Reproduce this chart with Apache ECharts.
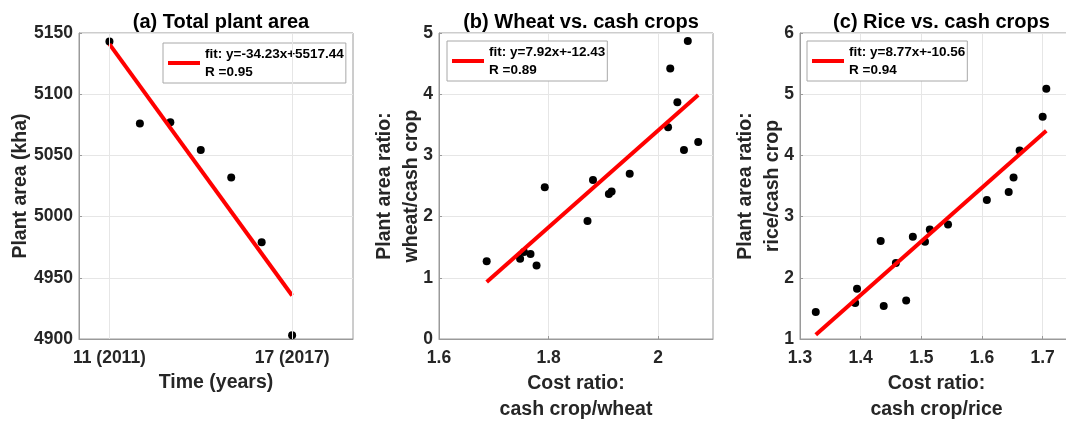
<!DOCTYPE html>
<html>
<head>
<meta charset="utf-8">
<script src="https://cdn.jsdelivr.net/npm/echarts@6/dist/echarts.min.js"></script>
<style>
html,body{margin:0;padding:0;background:#fff;}
#chart{width:1066px;height:421px;}
</style>
</head>
<body>
<div id="chart"></div>
<script>
// ---- data ----
const yearsA = [11, 12, 13, 14, 15, 16, 17];
const areaA = [5143, 5076, 5077, 5054.5, 5032, 4979, 4903];
const fitA = [[11, 5140.91], [17, 4935.53]];
const fitNameA = 'fit: y=-34.23x+5517.44\nR =0.95';
const xTicksA = [11, 17];
const xTickLabelsA = ['11 (2011)', '17 (2017)'];

const costB = [1.687, 1.748, 1.755, 1.767, 1.778, 1.793, 1.871, 1.881, 1.910, 1.915, 1.948, 2.018, 2.022, 2.035, 2.047, 2.054, 2.073];
const ratioB = [1.27, 1.31, 1.42, 1.39, 1.20, 2.48, 1.93, 2.60, 2.37, 2.41, 2.70, 3.46, 4.42, 3.87, 3.09, 4.87, 3.22];
const fitB = [[1.687, 0.931], [2.073, 3.988]];
const fitNameB = 'fit: y=7.92x+-12.43\nR =0.89';
const xTicksB = [1.6, 1.8, 2.0];

const costC = [1.326, 1.391, 1.394, 1.433, 1.438, 1.458, 1.475, 1.486, 1.506, 1.514, 1.544, 1.608, 1.644, 1.652, 1.662, 1.700, 1.706];
const ratioC = [1.44, 1.59, 1.82, 2.60, 1.54, 2.24, 1.63, 2.67, 2.59, 2.79, 2.87, 3.27, 3.40, 3.64, 4.08, 4.63, 5.09];
const fitC = [[1.326, 1.069], [1.706, 4.402]];
const fitNameC = 'fit: y=8.77x+-10.56\nR =0.94';
const xTicksC = [1.3, 1.4, 1.5, 1.6, 1.7];

const titles = ['(a) Total plant area', '(b) Wheat vs. cash crops', '(c) Rice vs. cash crops'];

// ---- style ----
const FONT = "'Liberation Sans', Arial, sans-serif";
const TXT = '#262626';
const BORDER = '#9a9a9a';
const GRIDC = '#e6e6e6';

const grids = [
  {left: 79, top: 33, width: 274, height: 306},
  {left: 439, top: 33, width: 274, height: 306},
  {left: 800, top: 33, width: 273, height: 306}
];
const centers = [216, 576, 936.5];

function labelStyle(extra) {
  return Object.assign({color: TXT, fontFamily: FONT, fontWeight: 'bold', fontSize: 17.5}, extra || {});
}
function nameStyle(extra) {
  return Object.assign({color: TXT, fontFamily: FONT, fontWeight: 'bold', fontSize: 19.5}, extra || {});
}
function fmt(v) {
  const r = Math.round(v * 100) / 100;
  return String(r);
}

const xAxes = [
  {
    gridIndex: 0, type: 'value', min: 10, max: 19, interval: 1,
    name: 'Time (years)', nameLocation: 'middle', nameGap: 34, nameTextStyle: nameStyle(),
    axisLine: {show: true, lineStyle: {color: BORDER, width: 1}},
    axisTick: {show: true, inside: true, length: 3, customValues: xTicksA, lineStyle: {color: BORDER}},
    axisLabel: {customValues: xTicksA, margin: 10, formatter: v => xTickLabelsA[xTicksA.indexOf(Math.round(v))] || '', ...labelStyle()},
    splitLine: {show: false}
  },
  {
    gridIndex: 1, type: 'value', min: 1.6, max: 2.1, interval: 0.2,
    name: 'Cost ratio:\ncash crop/wheat', nameLocation: 'middle', nameGap: 32, nameTextStyle: nameStyle({lineHeight: 26}),
    axisLine: {show: true, lineStyle: {color: BORDER, width: 1}},
    axisTick: {show: true, inside: true, length: 3, customValues: xTicksB, lineStyle: {color: BORDER}},
    axisLabel: {customValues: xTicksB, margin: 10, formatter: fmt, ...labelStyle()},
    splitLine: {show: true, lineStyle: {color: GRIDC, width: 1}}
  },
  {
    gridIndex: 2, type: 'value', min: 1.3, max: 1.75, interval: 0.1,
    name: 'Cost ratio:\ncash crop/rice', nameLocation: 'middle', nameGap: 32, nameTextStyle: nameStyle({lineHeight: 26}),
    axisLine: {show: true, lineStyle: {color: BORDER, width: 1}},
    axisTick: {show: true, inside: true, length: 3, customValues: xTicksC, lineStyle: {color: BORDER}},
    axisLabel: {customValues: xTicksC, margin: 10, formatter: fmt, ...labelStyle()},
    splitLine: {show: true, lineStyle: {color: GRIDC, width: 1}}
  }
].map(a => Object.assign(a, {nameMoveOverlap: false}));

const yAxes = [
  {
    gridIndex: 0, type: 'value', min: 4900, max: 5150, interval: 50,
    name: 'Plant area (kha)', nameLocation: 'middle', nameGap: 48, nameTextStyle: nameStyle()
  },
  {
    gridIndex: 1, type: 'value', min: 0, max: 5, interval: 1,
    name: 'Plant area ratio:\nwheat/cash crop', nameLocation: 'middle', nameGap: 14, nameTextStyle: nameStyle({lineHeight: 27})
  },
  {
    gridIndex: 2, type: 'value', min: 1, max: 6, interval: 1,
    name: 'Plant area ratio:\nrice/cash crop', nameLocation: 'middle', nameGap: 14, nameTextStyle: nameStyle({lineHeight: 27})
  }
].map(a => Object.assign(a, {
  nameMoveOverlap: false,
  axisLine: {show: true, lineStyle: {color: BORDER, width: 1}},
  axisTick: {show: true, inside: true, length: 3, lineStyle: {color: BORDER}},
  axisLabel: Object.assign({margin: 6, formatter: v => String(Math.round(v * 100) / 100)}, labelStyle()),
  splitLine: {show: true, lineStyle: {color: GRIDC, width: 1}}
}));

function scatter(idx, xs, ys, extra) {
  return Object.assign({
    type: 'scatter', xAxisIndex: idx, yAxisIndex: idx,
    data: xs.map((x, i) => [x, ys[i]]),
    symbolSize: 8, itemStyle: {color: '#000', opacity: 1}, silent: true
  }, extra || {});
}
function fitLine(idx, name, pts) {
  return {
    type: 'line', name: name, xAxisIndex: idx, yAxisIndex: idx,
    data: pts, symbol: 'none', silent: true,
    lineStyle: {color: '#ff0000', width: 4}, itemStyle: {color: '#ff0000'}
  };
}

const legendBase = {
  orient: 'vertical', icon: 'rect', itemWidth: 32, itemHeight: 4,
  padding: [2, 2, 2, 5], borderColor: '#a8a8a8', borderWidth: 1, backgroundColor: '#fff',
  selectedMode: false,
  textStyle: {color: '#000', fontFamily: FONT, fontWeight: 'bold', fontSize: 13.5, lineHeight: 18}
};

const option = {
  animation: false,
  backgroundColor: '#fff',
  title: titles.map((t, i) => ({
    text: t, left: centers[i], top: 7, textAlign: 'center',
    textStyle: {color: '#000', fontFamily: FONT, fontWeight: 'bold', fontSize: 20}
  })),
  grid: grids.map(g => Object.assign({show: true, borderColor: BORDER, borderWidth: 1, backgroundColor: '#fff', containLabel: false, outerBoundsMode: 'none'}, g)),
  legend: [
    Object.assign({data: [fitNameA], left: 163, top: 43}, legendBase),
    Object.assign({data: [fitNameB], left: 447, top: 41}, legendBase),
    Object.assign({data: [fitNameC], left: 807, top: 41}, legendBase)
  ],
  xAxis: xAxes,
  yAxis: yAxes,
  series: [
    scatter(0, yearsA, areaA, {
      markLine: {
        silent: true, symbol: 'none', label: {show: false},
        lineStyle: {color: GRIDC, width: 1, type: 'solid'},
        data: xTicksA.map(v => ({xAxis: v}))
      }
    }),
    fitLine(0, fitNameA, fitA),
    scatter(1, costB, ratioB),
    fitLine(1, fitNameB, fitB),
    scatter(2, costC, ratioC),
    fitLine(2, fitNameC, fitC)
  ]
};

const chart = echarts.init(document.getElementById('chart'), null, {renderer: 'canvas'});
chart.setOption(option);
</script>
</body>
</html>
